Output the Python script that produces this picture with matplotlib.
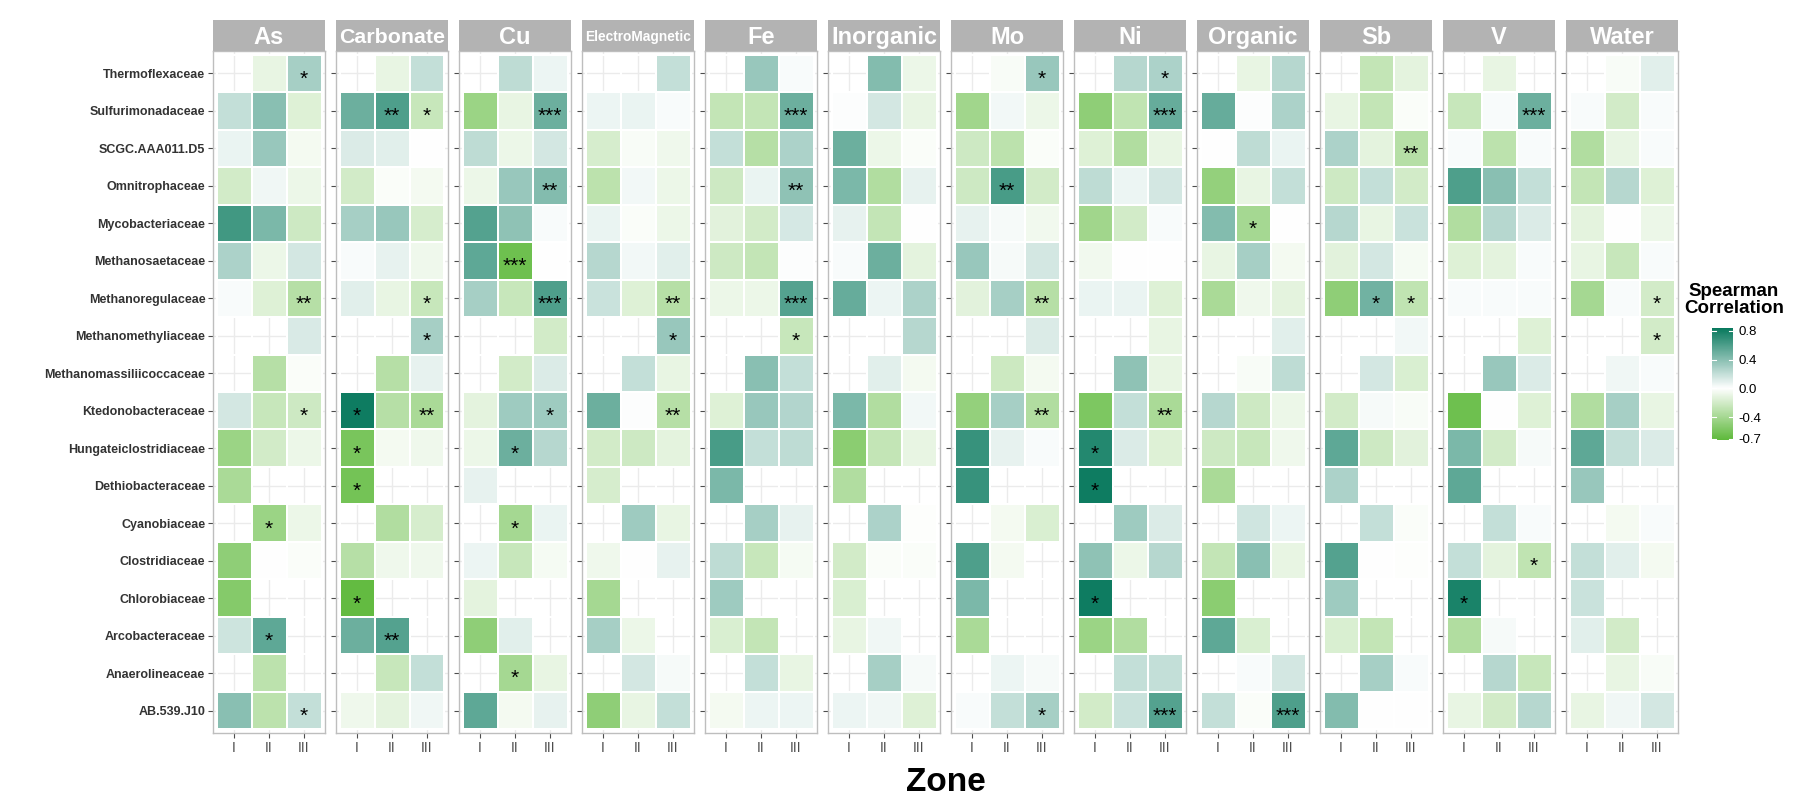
import numpy as np
import matplotlib
matplotlib.use("Agg")
import matplotlib.pyplot as plt
from matplotlib.colors import LinearSegmentedColormap, Normalize

plt.rcParams['font.family'] = ['Liberation Sans', 'DejaVu Sans']

families = ["Thermoflexaceae", "Sulfurimonadaceae", "SCGC.AAA011.D5", "Omnitrophaceae",
            "Mycobacteriaceae", "Methanosaetaceae", "Methanoregulaceae", "Methanomethyliaceae",
            "Methanomassiliicoccaceae", "Ktedonobacteraceae", "Hungateiclostridiaceae",
            "Dethiobacteraceae", "Cyanobiaceae", "Clostridiaceae", "Chlorobiaceae",
            "Arcobacteraceae", "Anaerolineaceae", "AB.539.J10"]
zones = ["I", "II", "III"]
facets = ["As", "Carbonate", "Cu", "ElectroMagnetic", "Fe", "Inorganic",
          "Mo", "Ni", "Organic", "Sb", "V", "Water"]

n = np.nan
# rows follow families (top to bottom), columns follow zones
as_r = [[n, -0.10, 0.30], [0.20, 0.40, -0.15], [0.07, 0.35, -0.05], [-0.20, 0.05, -0.08],
        [0.65, 0.45, -0.22], [0.28, -0.08, 0.15], [0.02, -0.15, -0.33], [n, n, 0.13],
        [n, -0.33, -0.02], [0.15, -0.25, -0.22], [-0.45, -0.20, -0.08], [-0.38, n, n],
        [n, -0.45, -0.08], [-0.50, 0.00, -0.02], [-0.55, n, n], [0.17, 0.55, n],
        [n, -0.30, n], [0.40, -0.30, 0.20]]
carbonate = [[n, -0.10, 0.20], [0.50, 0.60, -0.25], [0.12, 0.10, 0.00], [-0.20, -0.02, -0.05],
             [0.30, 0.35, -0.18], [0.02, 0.08, -0.07], [0.10, -0.10, -0.25], [n, n, 0.30],
             [n, -0.33, 0.08], [0.82, -0.33, -0.38], [-0.60, -0.05, -0.07], [-0.62, n, n],
             [n, -0.35, -0.18], [-0.33, -0.07, -0.07], [-0.70, n, n], [0.50, 0.58, n],
             [n, -0.25, 0.20], [-0.07, -0.12, 0.05]]
cu = [[n, 0.22, 0.06], [-0.45, -0.10, 0.50], [0.22, -0.08, 0.15], [-0.08, 0.35, 0.42],
      [0.58, 0.38, 0.02], [0.55, -0.65, 0.00], [0.30, -0.25, 0.60], [n, n, -0.20],
      [n, -0.20, 0.12], [-0.12, 0.33, 0.33], [-0.08, 0.50, 0.25], [0.08, n, n],
      [n, -0.40, 0.07], [0.06, -0.25, -0.04], [-0.12, n, n], [-0.50, 0.10, n],
      [n, -0.40, -0.10], [0.55, -0.05, 0.08]]
electro = [[n, n, 0.20], [0.06, 0.07, 0.02], [-0.18, -0.03, -0.07], [-0.30, 0.04, -0.08],
           [0.07, -0.02, -0.08], [0.25, 0.04, 0.10], [0.18, -0.15, -0.33], [n, n, 0.35],
           [n, 0.20, -0.10], [0.50, 0.01, -0.33], [-0.20, -0.22, -0.12], [-0.18, n, n],
           [n, 0.33, -0.10], [-0.07, 0.00, 0.08], [-0.40, n, n], [0.30, -0.08, n],
           [n, 0.15, 0.03], [-0.50, -0.10, 0.20]]
fe = [[n, 0.35, 0.02], [-0.27, -0.27, 0.50], [0.20, -0.33, 0.28], [-0.22, 0.07, 0.38],
      [-0.13, -0.20, 0.14], [-0.22, -0.27, 0.01], [-0.08, -0.08, 0.58], [n, n, -0.25],
      [n, 0.40, 0.20], [-0.15, 0.35, 0.26], [0.62, 0.20, 0.22], [0.45, n, n],
      [n, 0.30, 0.08], [0.22, -0.25, -0.04], [0.33, n, n], [-0.17, -0.27, n],
      [n, 0.20, -0.10], [-0.05, 0.06, 0.06]]
inorganic = [[n, 0.42, -0.08], [0.01, 0.15, -0.10], [0.50, -0.08, -0.02], [0.45, -0.35, 0.08],
             [0.08, -0.27, 0.00], [0.02, 0.50, -0.12], [0.52, 0.06, 0.28], [n, n, 0.25],
             [n, 0.10, -0.05], [0.45, -0.35, 0.04], [-0.52, -0.27, -0.10], [-0.35, n, n],
             [n, 0.28, -0.01], [-0.20, -0.02, -0.02], [-0.17, n, n], [-0.10, 0.05, n],
             [n, 0.30, 0.03], [0.06, 0.05, -0.15]]
mo = [[n, -0.03, 0.35], [-0.42, 0.04, -0.08], [-0.22, -0.30, -0.02], [-0.22, 0.62, -0.20],
      [0.08, 0.03, -0.06], [0.35, 0.03, 0.15], [-0.13, 0.30, -0.33], [n, n, 0.12],
      [n, -0.23, -0.05], [-0.48, 0.30, -0.35], [0.68, 0.08, 0.02], [0.68, n, n],
      [n, -0.05, -0.17], [0.60, -0.05, n], [0.45, n, n], [-0.38, n, n],
      [n, 0.06, 0.03], [0.02, 0.20, 0.30]]
ni = [[n, 0.25, 0.28], [-0.50, -0.28, 0.52], [-0.15, -0.35, -0.10], [0.22, 0.06, 0.15],
      [-0.42, -0.20, 0.02], [-0.06, 0.00, 0.00], [0.07, 0.07, -0.15], [n, n, -0.10],
      [n, 0.38, -0.10], [-0.58, 0.20, -0.38], [0.75, 0.12, -0.15], [0.82, n, n],
      [n, 0.33, 0.12], [0.38, -0.08, 0.25], [0.82, n, n], [-0.45, -0.35, n],
      [n, 0.20, 0.20], [-0.20, 0.18, 0.58]]
organic = [[n, -0.10, 0.25], [0.52, 0.01, 0.28], [0.00, 0.22, 0.07], [-0.48, -0.10, 0.20],
           [0.42, -0.40, 0.00], [-0.10, 0.30, -0.05], [-0.38, -0.07, -0.12], [n, n, 0.10],
           [n, -0.03, 0.22], [0.25, -0.22, -0.08], [-0.22, -0.25, -0.07], [-0.38, n, n],
           [n, 0.16, 0.06], [-0.27, 0.40, -0.10], [-0.52, n, n], [0.55, -0.17, n],
           [n, 0.02, 0.15], [0.20, -0.02, 0.60]]
sb = [[n, -0.27, -0.12], [-0.10, -0.27, -0.02], [0.28, -0.12, -0.33], [-0.22, 0.20, -0.20],
      [0.25, -0.10, 0.18], [-0.13, 0.15, -0.04], [-0.50, 0.48, -0.28], [n, n, 0.04],
      [n, 0.15, -0.17], [-0.20, 0.03, -0.03], [0.55, -0.22, -0.13], [0.28, n, n],
      [n, 0.20, -0.02], [0.58, 0.00, -0.01], [0.33, n, n], [-0.17, -0.27, n],
      [n, 0.30, 0.02], [0.42, 0.00, 0.00]]
v = [[n, -0.10, n], [-0.25, 0.02, 0.50], [0.02, -0.30, 0.02], [0.60, 0.40, 0.20],
     [-0.35, 0.25, 0.12], [-0.15, -0.12, 0.02], [0.02, 0.02, 0.02], [n, n, -0.15],
     [n, 0.35, 0.12], [-0.65, 0.00, -0.15], [0.45, -0.20, 0.03], [0.55, n, n],
     [n, 0.20, 0.02], [0.20, -0.12, -0.28], [0.78, n, n], [-0.35, 0.03, n],
     [n, 0.25, -0.25], [-0.10, -0.20, 0.25]]
water = [[n, -0.03, 0.10], [0.02, -0.20, 0.02], [-0.35, -0.10, 0.02], [-0.27, 0.25, -0.15],
         [-0.12, 0.00, -0.08], [-0.10, -0.25, 0.02], [-0.40, 0.02, -0.20], [n, n, -0.20],
         [n, 0.05, 0.02], [-0.35, 0.30, -0.10], [0.55, 0.20, 0.12], [0.35, n, n],
         [n, -0.05, 0.02], [0.20, 0.10, -0.05], [0.18, n, n], [0.10, -0.20, n],
         [n, -0.10, -0.03], [-0.10, 0.05, 0.15]]

values = {"As": as_r, "Carbonate": carbonate, "Cu": cu, "ElectroMagnetic": electro,
          "Fe": fe, "Inorganic": inorganic, "Mo": mo, "Ni": ni, "Organic": organic,
          "Sb": sb, "V": v, "Water": water}

# (facet, family, zone, significance)
stars = [("As", "Thermoflexaceae", "III", "*"), ("As", "Methanoregulaceae", "III", "**"),
         ("As", "Ktedonobacteraceae", "III", "*"), ("As", "Cyanobiaceae", "II", "*"),
         ("As", "Arcobacteraceae", "II", "*"), ("As", "AB.539.J10", "III", "*"),
         ("Carbonate", "Sulfurimonadaceae", "II", "**"), ("Carbonate", "Sulfurimonadaceae", "III", "*"),
         ("Carbonate", "Methanoregulaceae", "III", "*"), ("Carbonate", "Methanomethyliaceae", "III", "*"),
         ("Carbonate", "Ktedonobacteraceae", "I", "*"), ("Carbonate", "Ktedonobacteraceae", "III", "**"),
         ("Carbonate", "Hungateiclostridiaceae", "I", "*"), ("Carbonate", "Dethiobacteraceae", "I", "*"),
         ("Carbonate", "Chlorobiaceae", "I", "*"), ("Carbonate", "Arcobacteraceae", "II", "**"),
         ("Cu", "Sulfurimonadaceae", "III", "***"), ("Cu", "Omnitrophaceae", "III", "**"),
         ("Cu", "Methanosaetaceae", "II", "***"), ("Cu", "Methanoregulaceae", "III", "***"),
         ("Cu", "Ktedonobacteraceae", "III", "*"), ("Cu", "Hungateiclostridiaceae", "II", "*"),
         ("Cu", "Cyanobiaceae", "II", "*"), ("Cu", "Anaerolineaceae", "II", "*"),
         ("ElectroMagnetic", "Methanoregulaceae", "III", "**"),
         ("ElectroMagnetic", "Methanomethyliaceae", "III", "*"),
         ("ElectroMagnetic", "Ktedonobacteraceae", "III", "**"),
         ("Fe", "Sulfurimonadaceae", "III", "***"), ("Fe", "Omnitrophaceae", "III", "**"),
         ("Fe", "Methanoregulaceae", "III", "***"), ("Fe", "Methanomethyliaceae", "III", "*"),
         ("Mo", "Thermoflexaceae", "III", "*"), ("Mo", "Omnitrophaceae", "II", "**"),
         ("Mo", "Methanoregulaceae", "III", "**"), ("Mo", "Ktedonobacteraceae", "III", "**"),
         ("Mo", "AB.539.J10", "III", "*"),
         ("Ni", "Thermoflexaceae", "III", "*"), ("Ni", "Sulfurimonadaceae", "III", "***"),
         ("Ni", "Ktedonobacteraceae", "III", "**"), ("Ni", "Hungateiclostridiaceae", "I", "*"),
         ("Ni", "Dethiobacteraceae", "I", "*"), ("Ni", "Chlorobiaceae", "I", "*"),
         ("Ni", "AB.539.J10", "III", "***"),
         ("Organic", "Mycobacteriaceae", "II", "*"), ("Organic", "AB.539.J10", "III", "***"),
         ("Sb", "SCGC.AAA011.D5", "III", "**"), ("Sb", "Methanoregulaceae", "II", "*"),
         ("Sb", "Methanoregulaceae", "III", "*"),
         ("V", "Sulfurimonadaceae", "III", "***"), ("V", "Clostridiaceae", "III", "*"),
         ("V", "Chlorobiaceae", "I", "*"),
         ("Water", "Methanoregulaceae", "III", "*"), ("Water", "Methanomethyliaceae", "III", "*")]

breaks = [0.8, 0.4, 0.0, -0.4, -0.7]

cmap = LinearSegmentedColormap.from_list("spearman", ["#42AD19", "#FFFFFF", "#06785C"])
norm = Normalize(-0.85, 0.85)

W, H = 1809, 805
fig = plt.figure(figsize=(W / 100, H / 100), dpi=100)
x0, pw, gap = 213, 112, 11
strip_top, top, bottom = 20, 51, 733
nrow = len(families)

renderer = fig.canvas.get_renderer()
for k, f in enumerate(facets):
    left = x0 + k * (pw + gap)
    ax = fig.add_axes([left / W, 1 - bottom / H, pw / W, (bottom - top) / H])
    data = np.array(values[f])[::-1]
    ax.pcolormesh(np.arange(0.5, 3.6, 1), np.arange(0.5, nrow + 0.6, 1), data,
                  cmap=cmap, norm=norm, edgecolors="white", linewidth=0.3)
    ax.set_xlim(0.4, 3.6)
    ax.set_ylim(0.4, nrow + 0.6)
    ax.set_axisbelow(True)
    ax.grid(True, color="#EBEBEB", lw=1.0)
    ax.set_xticks([1, 2, 3])
    ax.set_xticklabels(zones, color="#4D4D4D", fontsize=10)
    ax.set_yticks(np.arange(1, nrow + 1))
    if k == 0:
        ax.set_yticklabels(families[::-1], fontsize=9, fontweight="bold", color="#333333")
    else:
        ax.set_yticklabels([])
        ax.tick_params(axis="y", length=0)
    ax.tick_params(axis="both", color="#4D4D4D", length=3.5, width=0.8, pad=2)
    for s in ax.spines.values():
        s.set_color("#BEBEBE")
        s.set_linewidth(1.0)
    for (ff, fam, z, lab) in stars:
        if ff == f:
            yy = nrow - families.index(fam)
            xx = zones.index(z) + 1
            ax.text(xx, yy - 0.3, lab, ha="center", va="baseline", fontsize=15, color="black")

    sax = fig.add_axes([left / W, 1 - top / H, pw / W, (top - strip_top) / H])
    sax.set_facecolor("#B3B3B3")
    sax.set_xticks([])
    sax.set_yticks([])
    for s in sax.spines.values():
        s.set_visible(False)
    t = sax.text(0.5, 0.45, f, ha="center", va="center", color="white",
                 fontsize=17, fontweight="bold", transform=sax.transAxes)
    wpx = t.get_window_extent(renderer).width
    if wpx > pw - 6:
        t.set_fontsize(17 * (pw - 6) / wpx)

fig.text((x0 + (12 * pw + 11 * gap) / 2) / W, 1 - 782 / H, "Zone", ha="center", va="center",
         fontsize=24, fontweight="bold")

# colour bar legend
lo, hi = -0.72, 0.84
cax = fig.add_axes([1712 / W, 1 - 440 / H, 21 / W, 112 / H])
cax.imshow(np.linspace(lo, hi, 256)[:, None], aspect="auto", origin="lower",
           extent=[0, 1, lo, hi], cmap=cmap, norm=norm)
for b in breaks:
    cax.plot([0, 0.2], [b, b], color="white", lw=0.8)
    cax.plot([0.8, 1], [b, b], color="white", lw=0.8)
cax.set_xlim(0, 1)
cax.set_ylim(lo, hi)
cax.set_xticks([])
cax.yaxis.tick_right()
cax.set_yticks(breaks)
cax.set_yticklabels(["%.1f" % b for b in breaks], fontsize=9.5)
cax.tick_params(axis="y", length=0, pad=4)
for s in cax.spines.values():
    s.set_visible(False)
fig.text(1734 / W, 1 - 300 / H, "Spearman\nCorrelation", ha="center", va="center",
         fontsize=13.5, fontweight="bold", linespacing=1.0, multialignment="center")

fig.savefig("out.png", dpi=100)
